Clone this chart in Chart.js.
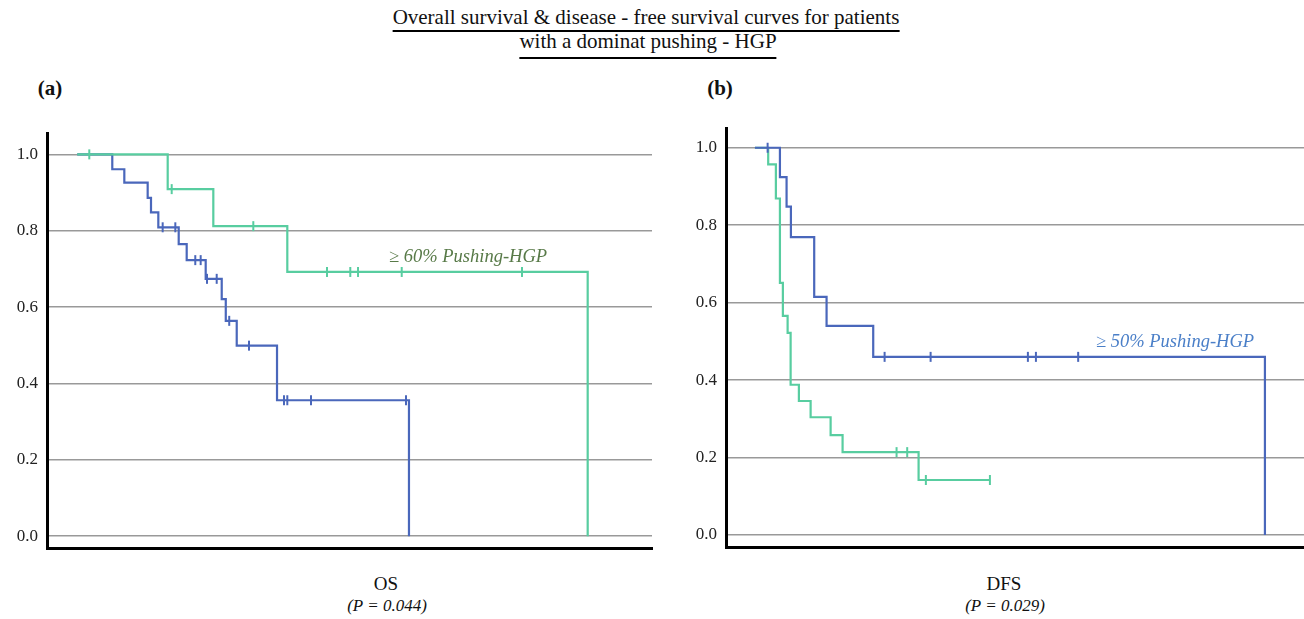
<!DOCTYPE html>
<html>
<head>
<meta charset="utf-8">
<script src="https://cdn.jsdelivr.net/npm/chart.js@4"></script>
<style>
  body { margin:0; width:1304px; height:619px; background:#fff; position:relative; overflow:hidden; font-family:"Liberation Serif", serif; color:#111; }
  .abs { position:absolute; white-space:nowrap; line-height:1; }
  .c { transform:translate(-50%,-50%); }
  .ttl { transform:translateX(-50%); font-size:21px; line-height:21px; border-bottom:2px solid #000; }
  canvas { position:absolute; }
</style>
</head>
<body>
<div class="abs ttl" style="left:646px; top:7px; padding-bottom:2px;">Overall survival &amp; disease - free survival curves for patients</div>
<div class="abs ttl" style="left:648px; top:31px; padding-bottom:5px;">with a dominat pushing - HGP</div>
<div class="abs c" style="left:50px; top:88px; font-size:21px; font-weight:bold;">(a)</div>
<div class="abs c" style="left:720px; top:88px; font-size:21px; font-weight:bold;">(b)</div>

<canvas id="osChart" width="660" height="440" style="left:0; top:120px;"></canvas>
<canvas id="dfsChart" width="624" height="440" style="left:680px; top:120px;"></canvas>

<div class="abs" style="left:389px; top:247px; font-size:18.5px; font-style:italic; color:#587a48;">≥ 60% Pushing-HGP</div>
<div class="abs" style="left:1096px; top:332px; font-size:18.5px; font-style:italic; color:#4a7fc8;">≥ 50% Pushing-HGP</div>

<div class="abs c" style="left:386px; top:583px; font-size:19px;">OS</div>
<div class="abs c" style="left:387px; top:605px; font-size:17px; font-style:italic;">(P = 0.044)</div>
<div class="abs c" style="left:1004px; top:583px; font-size:19px;">DFS</div>
<div class="abs c" style="left:1005px; top:605px; font-size:17px; font-style:italic;">(P = 0.029)</div>

<script>
const yTicks = [0, 0.2, 0.4, 0.6, 0.8, 1.0];

// (a) OS, >= 60% pushing HGP (green)
const osHighTimes = [0, 14.95, 22.49, 34.72, 84.37];
const osHighSurv  = [1.0, 0.909, 0.812, 0.692, 0];
const osHighCens  = [1.99, 15.61, 29.10, 41.28, 45.13, 46.41, 53.63, 73.51];

// (a) OS, other patients (blue)
const osLowTimes = [0, 5.79, 7.78, 11.64, 12.19, 13.40, 16.77, 18.09, 21.23, 23.88, 24.55, 26.36, 33.02, 54.83];
const osLowSurv  = [1.0, 0.961, 0.926, 0.886, 0.848, 0.809, 0.765, 0.723, 0.674, 0.621, 0.564, 0.499, 0.356, 0];
const osLowCens  = [14.12, 16.21, 19.51, 20.40, 21.45, 23.05, 25.12, 28.39, 34.17, 34.72, 38.64, 54.34];

// (b) DFS, >= 50% pushing HGP (blue)
const dfsHighTimes = [0, 4.33, 5.48, 6.23, 10.26, 12.40, 20.47, 88.24];
const dfsHighSurv  = [1.0, 0.924, 0.848, 0.769, 0.615, 0.540, 0.460, 0];
const dfsHighCens  = [2.2, 22.44, 30.40, 47.23, 48.62, 55.93];

// (b) DFS, other patients (green)
const dfsLowTimes = [0, 2.30, 3.63, 4.33, 4.84, 5.66, 6.18, 7.61, 9.64, 13.10, 15.17, 28.32, 40.66];
const dfsLowSurv  = [1.0, 0.957, 0.869, 0.651, 0.566, 0.522, 0.388, 0.346, 0.304, 0.258, 0.214, 0.142, 0.142];
const dfsLowCens  = [24.51, 26.35, 29.58, 40.66];

const GREEN = '#58cda0';
const BLUE = '#4a67bb';

Chart.defaults.font.family = '"Liberation Serif", serif';

function survAt(times, surv, t) {
  let s = surv[0];
  for (let i = 0; i < times.length; i++) { if (times[i] <= t) s = surv[i]; }
  return s;
}

function curveSets(times, surv, cens, color) {
  return [
    {
      data: cens.map(t => ({ x: t, y: survAt(times, surv, t) })),
      showLine: false,
      pointStyle: 'line',
      pointRotation: 90,
      pointRadius: 5,
      pointBorderWidth: 2,
      pointBorderColor: color,
      borderColor: color
    },
    {
      data: times.map((t, i) => ({ x: t, y: surv[i] })),
      stepped: true,
      borderColor: color,
      borderWidth: 2.2,
      pointRadius: 0,
      fill: false
    }
  ];
}

function makePanel(id, datasets, yMax, axisW, pad) {
  new Chart(document.getElementById(id), {
    type: 'line',
    data: { datasets: datasets },
    options: {
      responsive: false,
      animation: false,
      layout: { padding: pad, autoPadding: false },
      plugins: { legend: { display: false }, tooltip: { enabled: false } },
      scales: {
        x: {
          type: 'linear', min: -5, max: 95,
          ticks: { display: false },
          grid: { display: false },
          border: { display: true, color: '#000', width: 3 },
          afterFit: s => { s.height = 0; s.paddingLeft = 0; s.paddingRight = 0; }
        },
        y: {
          min: -0.031, max: yMax,
          afterBuildTicks: s => { s.ticks = yTicks.map(v => ({ value: v })); },
          afterFit: s => { s.width = axisW; s.paddingTop = 0; s.paddingBottom = 0; },
          ticks: { callback: v => v.toFixed(1), font: { size: 17 }, color: '#222', padding: 9 },
          grid: { color: '#999', lineWidth: 1.5, drawTicks: false },
          border: { color: '#000', width: 3 }
        }
      }
    }
  });
}

makePanel('osChart',
  [...curveSets(osHighTimes, osHighSurv, osHighCens, GREEN),
   ...curveSets(osLowTimes, osLowSurv, osLowCens, BLUE)],
  1.056, 47, { left: 0, top: 13, right: 8, bottom: 12 });

makePanel('dfsChart',
  [...curveSets(dfsHighTimes, dfsHighSurv, dfsHighCens, BLUE),
   ...curveSets(dfsLowTimes, dfsLowSurv, dfsLowCens, GREEN)],
  1.051, 46, { left: 0, top: 8, right: 0, bottom: 13 });
</script>
</body>
</html>
